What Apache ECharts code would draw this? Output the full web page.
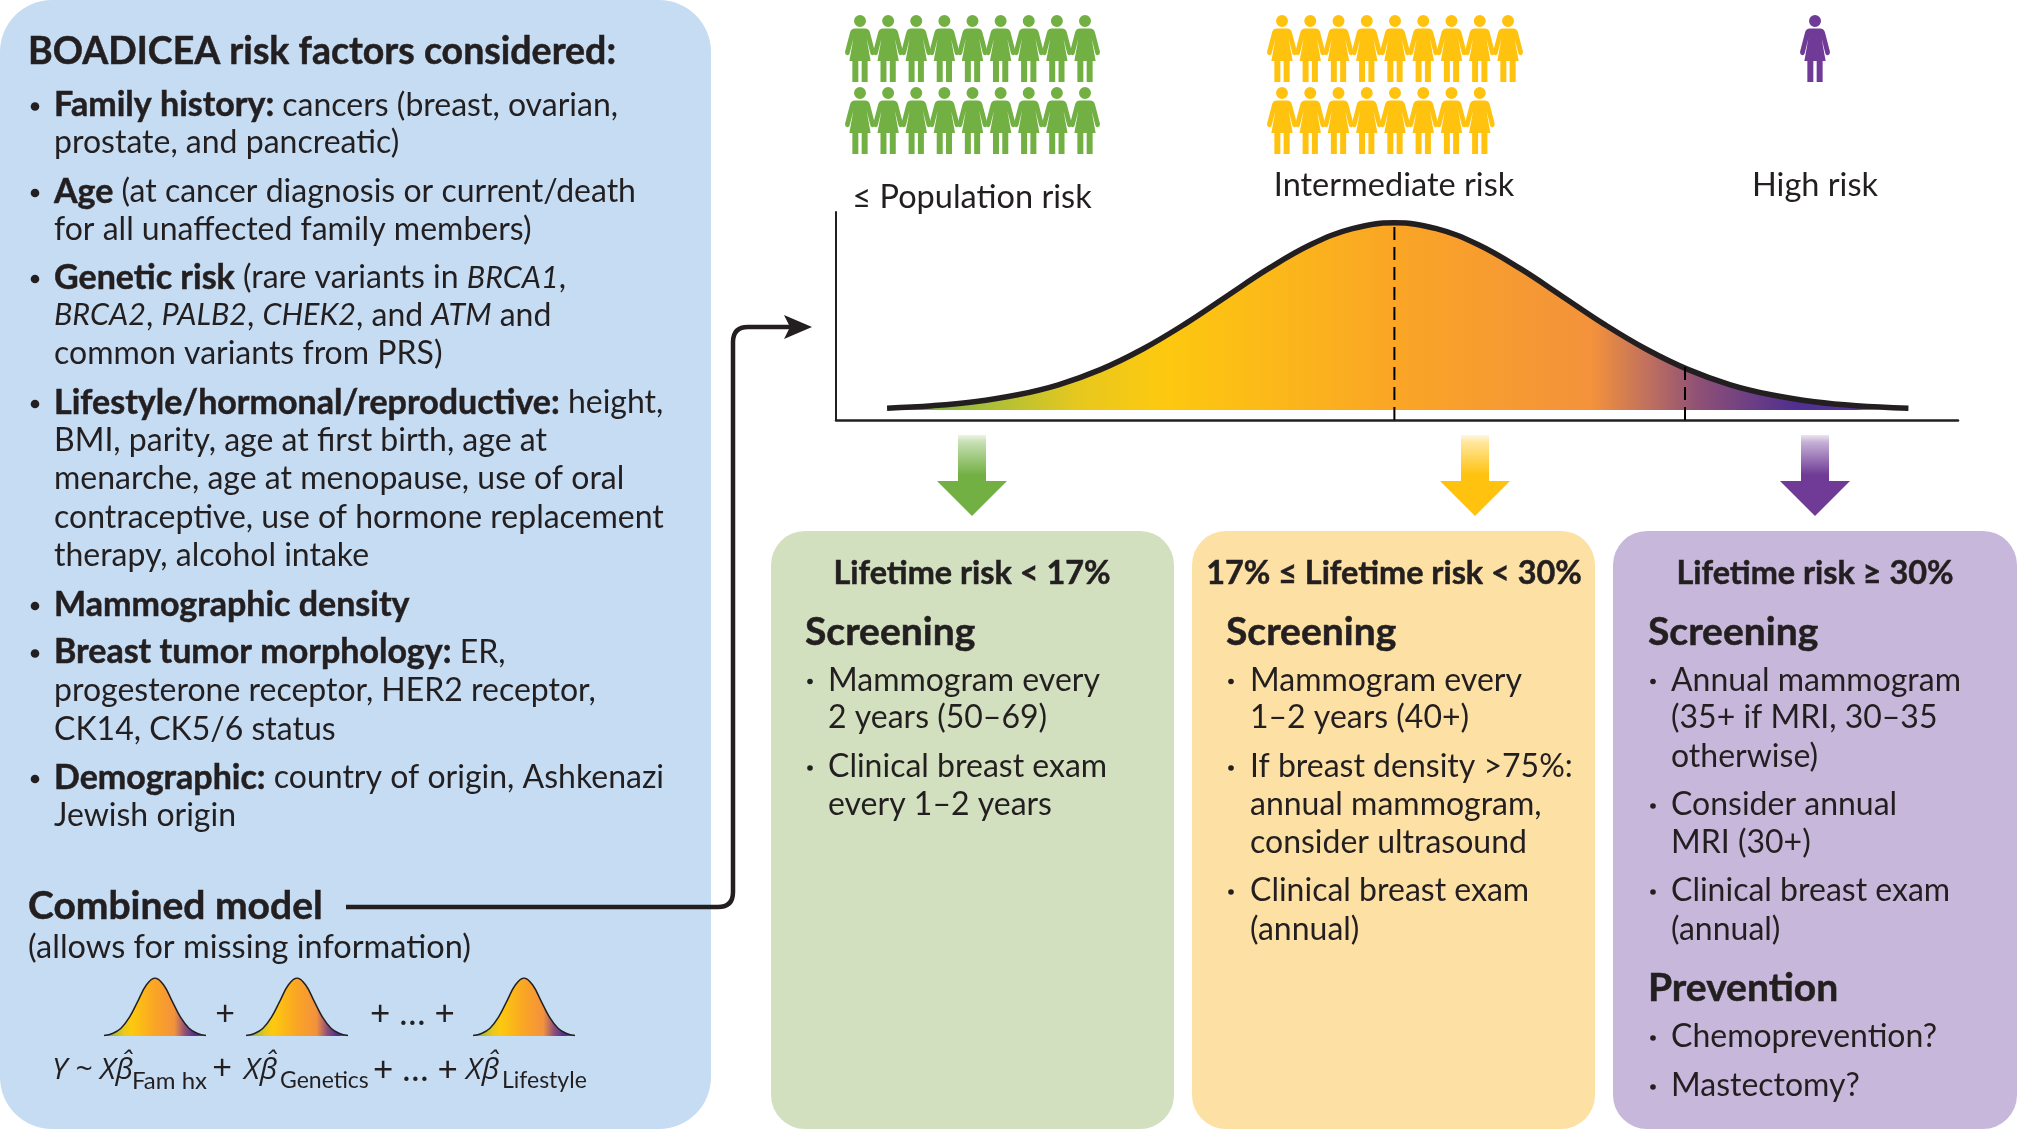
<!DOCTYPE html>
<html><head><meta charset="utf-8">
<style>html,body{margin:0;padding:0;background:#fff}#c{width:2017px;height:1129px}</style>
<script src="https://cdn.jsdelivr.net/npm/echarts@6/dist/echarts.min.js"></script>
</head><body><div id="c"></div>
<script>
// ---------- data ----------
const riskScore = [-3.02,-2.75,-2.5,-2.25,-2,-1.75,-1.5,-1.25,-1,-0.75,-0.5,-0.25,0,0.25,0.5,0.75,1,1.25,1.5,1.75,2,2.25,2.5,2.75,3.06];
const density   = [1,2.3,4.4,8,13.5,21.6,32.5,45.8,60.7,75.5,88.3,96.9,100,96.9,88.3,75.5,60.7,45.8,32.5,21.6,13.5,8,4.4,2.3,1];
const dashedAt  = [[0,100],[1.73,23]];
const miniX = [-3,-2.5,-2,-1.5,-1,-0.5,0,0.5,1,1.5,2,2.5,3];
const miniY = [1,4.4,13.5,32.5,60.7,88.3,100,88.3,60.7,32.5,13.5,4.4,1];
const peopleGreen  = [9,9];
const peopleYellow = [9,8];
const peoplePurple = [1];
const riskLabels = ['≤ Population risk','Intermediate risk','High risk'];
const headers = ['Lifetime risk < 17%','17% ≤ Lifetime risk < 30%','Lifetime risk ≥ 30%'];
const leftLines = [
 [105.5,'{b|Family history:} cancers (breast, ovarian,',1],
 [143,'prostate, and pancreatic)',0],
 [192,'{b|Age} (at cancer diagnosis or current/death',1],
 [229.5,'for all unaffected family members)',0],
 [278,'{b|Genetic risk} (rare variants in {i|BRCA1},',1],
 [315.5,'{i|BRCA2}, {i|PALB2}, {i|CHEK2}, and {i|ATM} and',0],
 [354,'common variants from PRS)',0],
 [403,'{b|Lifestyle/hormonal/reproductive:} height,',1],
 [441,'BMI, parity, age at first birth, age at',0],
 [479,'menarche, age at menopause, use of oral',0],
 [517.5,'contraceptive, use of hormone replacement',0],
 [556,'therapy, alcohol intake',0],
 [605,'{b|Mammographic density}',1],
 [652.5,'{b|Breast tumor morphology:} ER,',1],
 [691,'progesterone receptor, HER2 receptor,',0],
 [729.5,'CK14, CK5/6 status',0],
 [778,'{b|Demographic:} country of origin, Ashkenazi',1],
 [816,'Jewish origin',0]
];
const greenLines = [[680.5,'Mammogram every',1],[718,'2 years (50–69)',0],[767,'Clinical breast exam',1],[805,'every 1–2 years',0]];
const yellowLines = [[680.5,'Mammogram every',1],[718,'1–2 years (40+)',0],[767,'If breast density >75%:',1],[805,'annual mammogram,',0],[843,'consider ultrasound',0],[891,'Clinical breast exam',1],[930,'(annual)',0]];
const purpleLines = [[680.5,'Annual mammogram',1],[718,'(35+ if MRI, 30–35',0],[757,'otherwise)',0],[805,'Consider annual',1],[843,'MRI (30+)',0],[891,'Clinical breast exam',1],[930,'(annual)',0],[1037,'Chemoprevention?',1],[1086,'Mastectomy?',1]];

// ---------- styling ----------
const FF = 'Lato';
const INK = '#231F20';
const BODY = 32;
const BOLDW = 0.5;
const rich = {
  b:{fontFamily:FF,fontSize:34,fontWeight:'bold',fill:INK,color:INK,stroke:INK,lineWidth:BOLDW},
  i:{fontFamily:FF,fontSize:30.5,fontStyle:'italic',fill:INK,color:INK}
};
const g = [];
function text(x,y,s,o){ o=o||{};
  const style={x,y,text:s,fill:o.fill||INK,fontFamily:o.ff||FF,fontSize:o.size||BODY,
    fontWeight:o.weight||'normal',fontStyle:o.style||'normal',textAlign:o.align||'left',textVerticalAlign:'middle',rich};
  if(o.weight==='bold'){style.stroke=INK;style.lineWidth=BOLDW;}
  g.push({type:'text',z:5,silent:true,style});
}
function card(x,y,w,h,r,fill){ g.push({type:'rect',z:1,silent:true,shape:{x,y,width:w,height:h,r},style:{fill}}); }
function lines(arr,tx,bx,rad){ arr.forEach(l=>{ text(tx,l[0],l[1]);
  if(l[2]) g.push({type:'circle',z:5,silent:true,shape:{cx:bx,cy:l[0]+1,r:rad},style:{fill:INK}}); }); }
function arrow(cx,color){
  g.push({type:'rect',z:2,silent:true,shape:{x:cx-14,y:435,width:28,height:47},
    style:{fill:{type:'linear',x:0,y:0,x2:0,y2:1,colorStops:[{offset:0,color:color+'22'},{offset:0.15,color:color+'66'},{offset:0.85,color:color}]}}});
  g.push({type:'polygon',z:2,silent:true,shape:{points:[[cx-35,481],[cx+35,481],[cx,516]]},style:{fill:color}});
}

card(0,0,711,1129,52,'#C5DCF3');
card(771,531,403,598,34,'#D3E0BF');
card(1192,531,403,598,34,'#FDE0A4');
card(1613,531,404,598,34,'#C7B8DB');

text(28,51.5,'BOADICEA risk factors considered:',{size:37.5,weight:'bold'});
lines(leftLines,54,35,4.3);
text(28,906,'Combined model',{size:39,weight:'bold'});
text(28,948,'(allows for missing information)',{size:32.5});

// formula
text(52,1070,'Y ~ Xβ̂',{style:'italic',ff:'Open Sans',size:30});
text(132,1081,'Fam hx',{size:24});
text(222,1068,'+',{align:'center',size:34});
text(244,1070,'Xβ̂',{style:'italic',ff:'Open Sans',size:30});
text(280,1081,'Genetics',{size:23});
text(373,1070,'+ … +',{size:35});
text(466,1070,'Xβ̂',{style:'italic',ff:'Open Sans',size:30});
text(502,1081,'Lifestyle',{size:23});
text(225,1014,'+',{align:'center',size:34});
text(370,1014,'+ … +',{size:35});

// risk labels
text(972,197.5,riskLabels[0],{align:'center',size:32.5});
text(1394,185.5,riskLabels[1],{align:'center',size:32.5});
text(1815,185.5,riskLabels[2],{align:'center',size:32.5});

// cards
text(972,574,headers[0],{align:'center',weight:'bold',size:32.4});
text(1394,574,headers[1],{align:'center',weight:'bold',size:32.4});
text(1815,574,headers[2],{align:'center',weight:'bold',size:32.4});
text(805,632,'Screening',{weight:'bold',size:39});
text(1226,632,'Screening',{weight:'bold',size:39});
text(1648,632,'Screening',{weight:'bold',size:39});
text(1648,988,'Prevention',{weight:'bold',size:39});
lines(greenLines,828,810,2.8);
lines(yellowLines,1250,1231,2.8);
lines(purpleLines,1671,1653,2.8);

arrow(972,'#72B043'); arrow(1475,'#FFC20E'); arrow(1815,'#6F3B96');

// connector
const CS={stroke:INK,lineWidth:4.5,fill:'none'};
g.push({type:'line',z:3,silent:true,shape:{x1:346,y1:907,x2:718,y2:907},style:CS});
g.push({type:'bezierCurve',z:3,silent:true,shape:{x1:718,y1:907,cpx1:733,cpy1:907,x2:733,y2:892},style:CS});
g.push({type:'line',z:3,silent:true,shape:{x1:733,y1:892,x2:733,y2:342},style:CS});
g.push({type:'bezierCurve',z:3,silent:true,shape:{x1:733,y1:342,cpx1:733,cpy1:327,x2:748,y2:327},style:CS});
g.push({type:'line',z:3,silent:true,shape:{x1:748,y1:327,x2:795,y2:327},style:CS});
g.push({type:'polygon',z:3,silent:true,shape:{points:[[812,327],[784,315],[790,327],[784,339]]},style:{fill:INK}});

// ---------- chart ----------
const mainStops=[
 {offset:0,color:'#72B043'},{offset:0.05,color:'#86B53E'},{offset:0.09,color:'#A5BE3A'},{offset:0.19,color:'#E8C81E'},
 {offset:0.27,color:'#FDC90F'},{offset:0.5,color:'#FAA525'},{offset:0.69,color:'#F3923C'},{offset:0.745,color:'#C0705E'},
 {offset:0.795,color:'#8E5076'},{offset:0.89,color:'#4F2F90'},{offset:1,color:'#5A3A9E'}];
const hGrad=s=>({type:'linear',x:0,y:0,x2:1,y2:0,colorStops:s});
const hidden={show:false};
const grid=[{left:836,width:1122,top:212,height:208}];
const xAxis=[{type:'value',gridIndex:0,min:-3.324,max:3.355,axisLine:{show:true,onZero:false,lineStyle:{color:INK,width:2.5}},axisTick:hidden,axisLabel:hidden,splitLine:hidden}];
const yAxis=[{type:'value',gridIndex:0,min:-5.32,max:105.8,axisLine:{show:true,onZero:false,lineStyle:{color:INK,width:2}},axisTick:hidden,axisLabel:hidden,splitLine:hidden}];
const series=[{type:'line',xAxisIndex:0,yAxisIndex:0,data:riskScore.map((x,i)=>[x,density[i]]),smooth:0.4,symbol:'none',silent:true,z:3,
  lineStyle:{color:INK,width:5.5,cap:'butt'},areaStyle:{opacity:1,origin:0,color:hGrad(mainStops)}}];
dashedAt.forEach(d=>series.push({type:'line',xAxisIndex:0,yAxisIndex:0,data:[[d[0],-5.32],[d[0],d[1]]],symbol:'none',silent:true,z:4,
  lineStyle:{color:'#000',width:2,type:[13,7]}}));

// mini curves
[104,246,473].forEach(left=>{
  const i=grid.length;
  grid.push({left,width:102,top:978,height:58});
  xAxis.push({type:'value',gridIndex:i,min:-3,max:3,show:false});
  yAxis.push({type:'value',gridIndex:i,min:0,max:100,show:false});
  series.push({type:'line',xAxisIndex:i,yAxisIndex:i,data:miniX.map((x,k)=>[x,miniY[k]]),smooth:0.4,symbol:'none',silent:true,z:3,
    lineStyle:{color:INK,width:1.5},areaStyle:{opacity:1,origin:0,color:hGrad(mainStops)}});
});

// people
const WOMAN='path://M27,18 A18,18 0 1 1 63,18 A18,18 0 1 1 27,18 Z M30,40 L60,40 Q72,40 75,52 L90,110 Q91,118 84,120 Q78,121 76,114 L65,70 L77,137 L68,137 L68,200 L50,200 L50,137 L40,137 L40,200 L22,200 L22,137 L13,137 L25,70 L14,114 Q12,121 6,120 Q-1,118 0,110 L15,52 Q18,40 30,40 Z';
function people(rows,left,width,top,color){
  const i=grid.length;
  grid.push({left,width,top,height:72});
  xAxis.push({type:'value',gridIndex:i,min:0,max:8,show:false});
  yAxis.push({type:'value',gridIndex:i,min:0,max:1,inverse:true,show:false});
  const pts=[]; rows.forEach((n,r)=>{for(let c=0;c<n;c++)pts.push([c,r]);});
  series.push({type:'scatter',xAxisIndex:i,yAxisIndex:i,data:pts,symbol:WOMAN,symbolSize:[30,67],silent:true,z:3,itemStyle:{color,opacity:1}});
}
people(peopleGreen,860,225,48.5,'#72B043');
people(peopleYellow,1282,226,48.5,'#FFC20E');
people(peoplePurple,1815,225,48.5,'#6F3B96');

const chart=echarts.init(document.getElementById('c'),null,{renderer:'canvas'});
chart.setOption({animation:false,backgroundColor:'#fff',tooltip:{show:false},grid,xAxis,yAxis,series,graphic:{elements:g}});
</script></body></html>
